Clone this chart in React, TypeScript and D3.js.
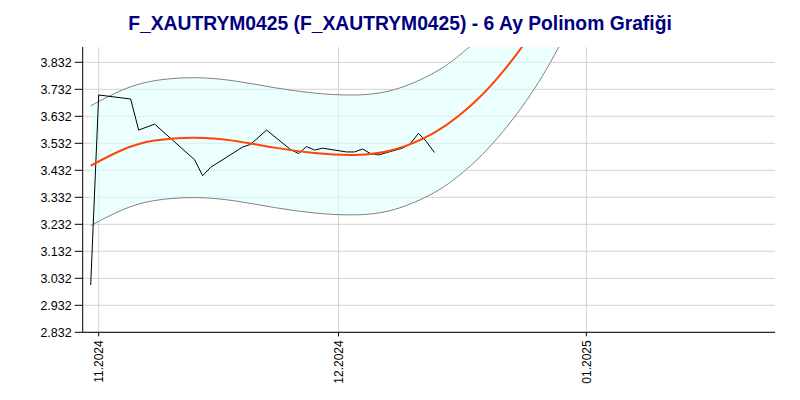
import React from "react";
import * as d3 from "d3";

const TITLE = "F_XAUTRYM0425 (F_XAUTRYM0425) - 6 Ay Polinom Grafiği";

const priceDates = [
  "2024-10-31", "2024-11-01", "2024-11-05", "2024-11-06", "2024-11-08",
  "2024-11-13", "2024-11-14", "2024-11-15", "2024-11-19", "2024-11-20",
  "2024-11-22", "2024-11-25", "2024-11-26", "2024-11-27", "2024-11-28",
  "2024-11-29", "2024-12-02", "2024-12-03", "2024-12-04", "2024-12-05",
  "2024-12-06", "2024-12-09", "2024-12-10", "2024-12-11", "2024-12-12",
  "2024-12-13",
];
const priceValues = [
  3.007, 3.711, 3.696, 3.581, 3.603,
  3.471, 3.412, 3.443, 3.518, 3.528,
  3.581, 3.509, 3.494, 3.52, 3.507,
  3.514, 3.5, 3.5, 3.511, 3.494,
  3.489, 3.514, 3.531, 3.569, 3.538,
  3.498,
];

const fitDates = [
  "2024-10-31", "2024-11-04", "2024-11-08", "2024-11-13", "2024-11-18",
  "2024-11-23", "2024-11-28", "2024-12-03", "2024-12-08", "2024-12-13",
  "2024-12-16", "2024-12-18", "2024-12-20", "2024-12-22", "2024-12-24",
  "2024-12-26", "2024-12-28", "2024-12-30",
];
const fitValues = [
  3.449, 3.508, 3.542, 3.553, 3.541,
  3.516, 3.496, 3.489, 3.509, 3.572,
  3.633, 3.684, 3.744, 3.813, 3.891,
  3.979, 4.08, 4.19,
];
const BAND_HALF_WIDTH = 0.222;

const yTickValues = [2.832, 2.932, 3.032, 3.132, 3.232, 3.332, 3.432, 3.532, 3.632, 3.732, 3.832];
const xTickDates = ["2024-11-01", "2024-12-01", "2025-01-01"];
const xTickLabels = ["11.2024", "12.2024", "01.2025"];

const X_DOMAIN = ["2024-10-30T00:00", "2025-01-24T12:00"];
const Y_DOMAIN = [2.832, 3.8887];

const FONT = "'Liberation Sans', Arial, sans-serif";

export default function App() {
  const W = 800, H = 400;
  const left = 82.7, right = 774.2, top = 47, bottom = 332.3;
  const parse = d3.utcParse("%Y-%m-%d");
  const parseT = d3.utcParse("%Y-%m-%dT%H:%M");

  const x = d3.scaleUtc()
    .domain([parseT(X_DOMAIN[0])!, parseT(X_DOMAIN[1])!])
    .range([left, right]);
  const y = d3.scaleLinear().domain(Y_DOMAIN).range([bottom, top]);

  const price = priceDates.map((d, i) => ({ d: parse(d)!, v: priceValues[i] }));
  const fit = fitDates.map((d, i) => ({ d: parse(d)!, v: fitValues[i] }));

  const line = d3.line<{ d: Date; v: number }>().x(p => x(p.d)).y(p => y(p.v));
  const smooth = d3.line<{ d: Date; v: number }>()
    .x(p => x(p.d)).y(p => y(p.v)).curve(d3.curveNatural);
  const upper = d3.line<{ d: Date; v: number }>()
    .x(p => x(p.d)).y(p => y(p.v + BAND_HALF_WIDTH)).curve(d3.curveNatural);
  const lower = d3.line<{ d: Date; v: number }>()
    .x(p => x(p.d)).y(p => y(p.v - BAND_HALF_WIDTH)).curve(d3.curveNatural);
  const band = d3.area<{ d: Date; v: number }>()
    .x(p => x(p.d))
    .y0(p => y(p.v - BAND_HALF_WIDTH))
    .y1(p => y(p.v + BAND_HALF_WIDTH))
    .curve(d3.curveNatural);

  const fmt = d3.format(".3f");
  const axisRight = 775;

  return (
    <svg width={W} height={H} style={{ position: "absolute", left: 0, top: 0, background: "#fff" }}>
      <defs>
        <clipPath id="plot">
          <rect x={left} y={top} width={axisRight - left} height={bottom - top} />
        </clipPath>
      </defs>
      <text x={400} y={29.5} textAnchor="middle" fontFamily={FONT} fontSize={19.3} fontWeight="bold" fill="#000080">
        {TITLE}
      </text>

      {yTickValues.map((t, i) => (
        <line key={"gy" + i} x1={left} x2={axisRight} y1={y(t)} y2={y(t)} stroke="#d3d3d3" strokeWidth={1} />
      ))}
      {xTickDates.map((t, i) => (
        <line key={"gx" + i} x1={x(parse(t)!)} x2={x(parse(t)!)} y1={top} y2={bottom} stroke="#d3d3d3" strokeWidth={1} />
      ))}

      <g clipPath="url(#plot)">
        <path d={band(fit) || ""} fill="#e0ffff" fillOpacity={0.6} stroke="none" />
        <path d={upper(fit) || ""} fill="none" stroke="#808080" strokeWidth={1} />
        <path d={lower(fit) || ""} fill="none" stroke="#808080" strokeWidth={1} />
        <path d={line(price) || ""} fill="none" stroke="#000" strokeWidth={1} />
        <path d={smooth(fit) || ""} fill="none" stroke="#ff4500" strokeWidth={2} />
      </g>

      <line x1={left} x2={left} y1={top} y2={bottom} stroke="#000" strokeWidth={1} />
      <line x1={left} x2={axisRight} y1={bottom} y2={bottom} stroke="#000" strokeWidth={1} />
      {yTickValues.map((t, i) => (
        <g key={"ty" + i}>
          <line x1={left - 8} x2={left} y1={y(t)} y2={y(t)} stroke="#000" />
          <text x={left - 11} y={y(t)} dy="0.35em" textAnchor="end" fontFamily={FONT} fontSize={12.5} fill="#000">
            {fmt(t)}
          </text>
        </g>
      ))}
      {xTickDates.map((t, i) => {
        const px = x(parse(t)!);
        return (
          <g key={"tx" + i}>
            <line x1={px} x2={px} y1={bottom} y2={bottom + 4} stroke="#000" />
            <text
              transform={`translate(${px},${bottom + 8}) rotate(-90)`}
              dy="0.35em"
              textAnchor="end"
              fontFamily={FONT}
              fontSize={12}
              fill="#000"
            >
              {xTickLabels[i]}
            </text>
          </g>
        );
      })}
    </svg>
  );
}
